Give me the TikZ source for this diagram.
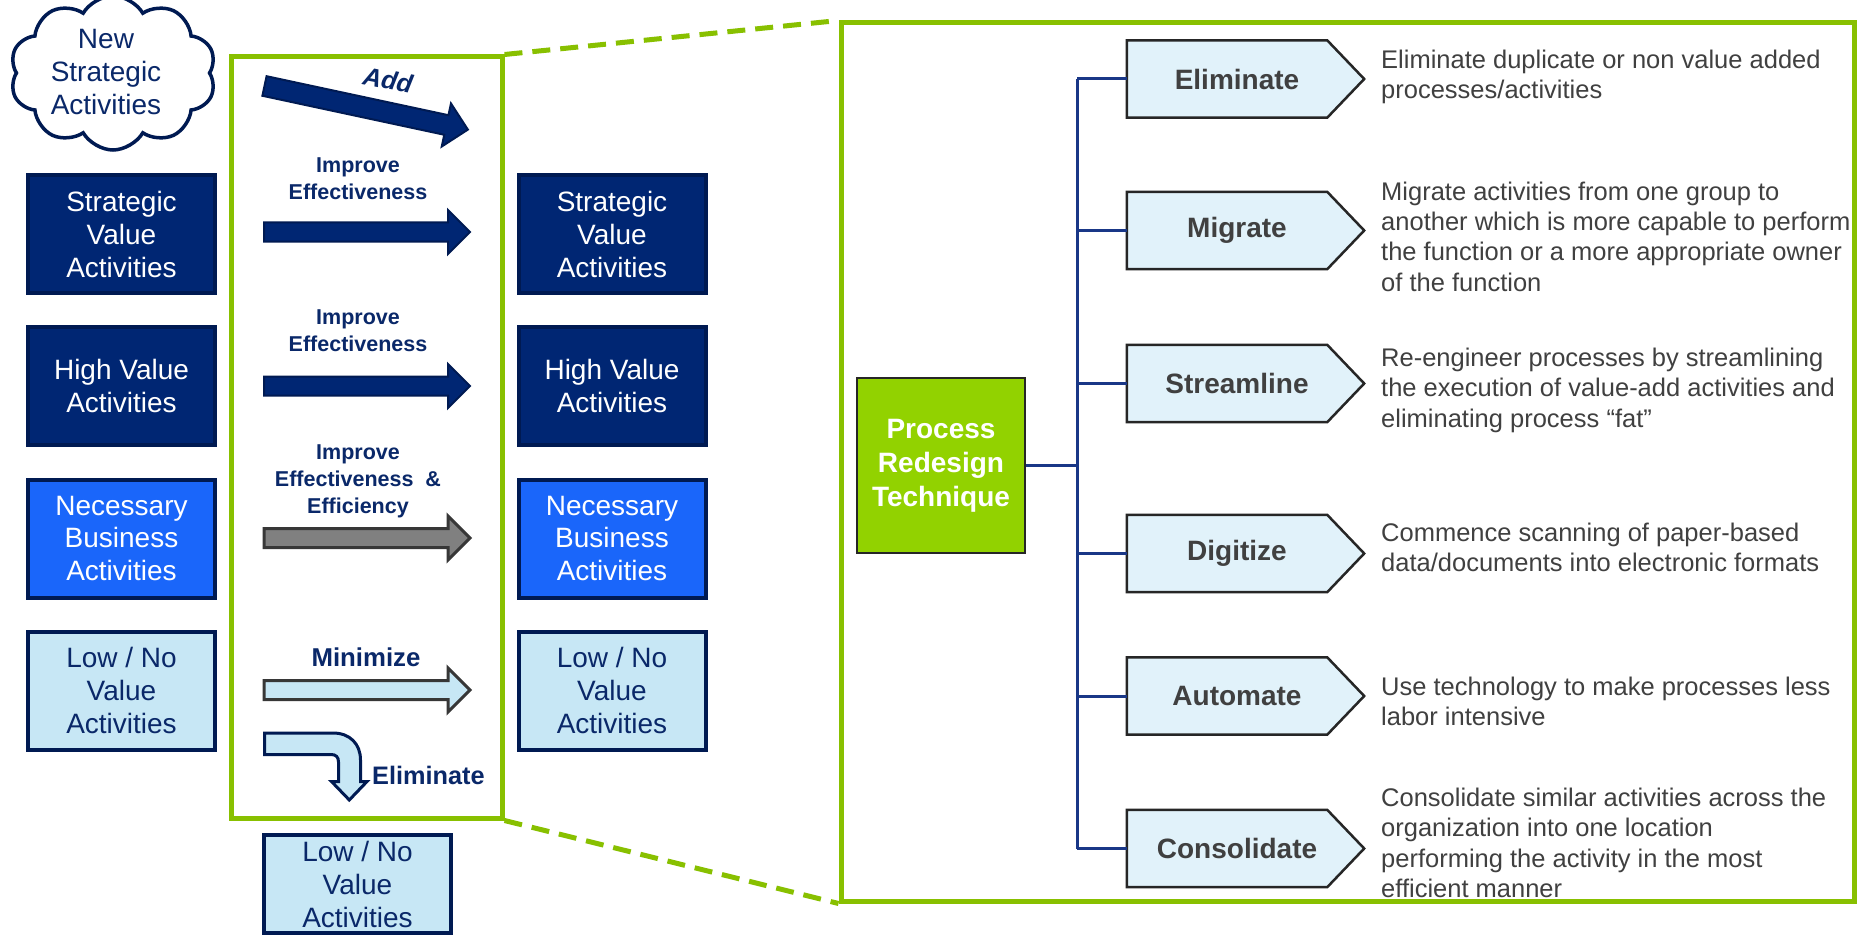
\documentclass[tikz,border=0pt]{standalone}
\usepackage{fontspec}
\setmainfont{Liberation Sans}
\usetikzlibrary{shapes.symbols,calc}
\pgfdeclarelayer{paper}
\pgfdeclarelayer{under}
\pgfsetlayers{paper,under,main}

\definecolor{navy}{RGB}{0,38,115}
\definecolor{navyD}{RGB}{0,26,82}
\definecolor{brightblue}{RGB}{26,102,250}
\definecolor{paleblue}{RGB}{199,231,245}
\definecolor{txtnavy}{RGB}{10,40,105}
\definecolor{lime}{RGB}{136,192,0}
\definecolor{limefill}{RGB}{146,210,0}
\definecolor{chevfill}{RGB}{225,242,250}
\definecolor{inkgray}{RGB}{64,64,64}
\definecolor{treeblue}{RGB}{25,55,135}
\definecolor{darkrim}{RGB}{55,55,55}

\begin{document}
\begin{tikzpicture}[x=1pt,y=-1pt,
  actbox/.style={rectangle, line width=4pt, draw=navyD, minimum width=187pt,
    minimum height=118pt, align=center, inner sep=0pt,
    font=\fontsize{28}{33}\selectfont},
  svbox/.style={actbox, fill=navy, text=white},
  nbbox/.style={actbox, fill=brightblue, text=white},
  lnbox/.style={actbox, fill=paleblue, text=txtnavy},
  frame/.style={draw=lime, line width=5pt, rectangle, inner sep=0pt},
  zoomline/.style={draw=lime, line width=5pt, dash pattern=on 18pt off 10pt},
  flowlbl/.style={text=txtnavy, align=center, inner sep=0pt,
    font=\bfseries\fontsize{21.5}{27}\selectfont},
  navyarrow/.style={fill=navy, draw=navyD, line width=2pt, line join=miter},
  grayarrow/.style={fill=gray, draw=darkrim, line width=3pt, line join=miter},
  palearrow/.style={fill=paleblue, draw=darkrim, line width=3pt, line join=miter},
  elimarrow/.style={fill=paleblue, draw=navyD, line width=3pt, line join=miter},
  chev/.style={rectangle, minimum width=220pt, minimum height=77pt, inner sep=0pt,
    text=inkgray, font=\bfseries\fontsize{28}{34}\selectfont},
  chevshape/.style={fill=chevfill, draw=black!85, line width=2.5pt, line join=miter},
  tree/.style={draw=treeblue, line width=3pt},
  desc/.style={anchor=north west, align=left, inner sep=0pt, text=inkgray,
    font=\fontsize{25.5}{30.3}\selectfont},
  blockarrow/.pic={\path[pic actions] (0,-9.5) -- (184,-9.5) -- (184,-22) -- (206,0)
    -- (184,22) -- (184,9.5) -- (0,9.5) -- cycle;},
  addarrow/.pic={\path[pic actions] (0,-10) -- (186,-10) -- (186,-22) -- (208,0)
    -- (186,22) -- (186,10) -- (0,10) -- cycle;}
]
\begin{pgfonlayer}{paper}
  \fill[white] (0,0) rectangle (1860,936);
\end{pgfonlayer}
\useasboundingbox (0,0) rectangle (1860,936);

% ---------- left panel: activity categories ----------
\node[cloud, cloud puffs=10, cloud puff arc=120, aspect=1.5, draw=navyD,
  line width=3.5pt, fill=white, minimum width=206pt, minimum height=154pt,
  inner sep=0pt] (cloud) at (113,73) {};
\node[text=txtnavy, align=center, inner sep=0pt,
  font=\fontsize{28}{33}\selectfont] (cloudtxt) at (106,72) {New\\Strategic\\Activities};

\node[svbox] (svL) at (121.5,234) {Strategic\\Value\\Activities};
\node[svbox] (hvL) at (121.5,386) {High Value\\Activities};
\node[nbbox] (nbL) at (121.5,538.5) {Necessary\\Business\\Activities};
\node[lnbox] (lnL) at (121.5,690.5) {Low / No\\Value\\Activities};

\node[svbox] (svR) at (612,234) {Strategic\\Value\\Activities};
\node[svbox] (hvR) at (612,386) {High Value\\Activities};
\node[nbbox] (nbR) at (612,538.5) {Necessary\\Business\\Activities};
\node[lnbox] (lnR) at (612,690.5) {Low / No\\Value\\Activities};

\node[lnbox, minimum height=98pt] (lnB) at (357.5,884) {Low / No\\Value\\Activities};

% ---------- transition frame and its arrows ----------
\node[frame, minimum width=271pt, minimum height=761pt] (src) at (366.5,437.5) {};

\pic[navyarrow, rotate=-12.1] at (264.5,86) {addarrow};
\node[flowlbl, font=\bfseries\itshape\fontsize{25.5}{30}\selectfont, rotate=-11] (lblAdd) at (388,80) {Add};

\node[flowlbl] (lblA) at (358,179) {Improve\\Effectiveness};
\pic[navyarrow] at (264,232) {blockarrow};

\node[flowlbl] (lblB) at (358,331) {Improve\\Effectiveness};
\pic[navyarrow] at (264,386) {blockarrow};

\node[flowlbl] (lblC) at (358,481) {Improve\\Effectiveness~~\&\\Efficiency};
\pic[grayarrow] at (264,538) {blockarrow};

\node[flowlbl, font=\bfseries\fontsize{25.8}{30}\selectfont] (lblD) at (366,657.5) {Minimize};
\pic[palearrow] at (264,690) {blockarrow};

\draw[elimarrow] (264.5,733) -- (333,733)
  .. controls (350,733) and (360.5,744) .. (360.5,760) -- (360.5,781.5)
  -- (367,781.5) -- (349.3,800) -- (331.5,781.5) -- (338.5,781.5) -- (338.5,762)
  .. controls (338.5,757) and (336,754.5) .. (331,754.5) -- (264.5,754.5) -- cycle;
\node[flowlbl, font=\bfseries\fontsize{25.3}{30}\selectfont, anchor=west] (lblE) at (372,775) {Eliminate};

% ---------- right panel: redesign techniques ----------
\node[frame, minimum width=1013pt, minimum height=878pt] (dst) at (1347.5,462) {};
\draw[zoomline] (src.north east) -- (dst.north west);
\draw[zoomline] (src.south east) -- (dst.south west);

\node[draw=black!85, line width=2.5pt, fill=limefill, minimum width=168pt,
  minimum height=175pt, text=white, align=center, inner sep=0pt,
  font=\bfseries\fontsize{28}{34}\selectfont] (proc) at (941,465.5) {Process\\Redesign\\Technique};

\node[chev] (c1) at (1237,79) {Eliminate};
\node[chev] (c2) at (1237,230.5) {Migrate};
\node[chev] (c3) at (1237,383.5) {Streamline};
\node[chev] (c4) at (1237,553.5) {Digitize};
\node[chev] (c5) at (1237,696) {Automate};
\node[chev] (c6) at (1237,848.5) {Consolidate};

\begin{pgfonlayer}{under}
  \foreach \nm in {c1,c2,c3,c4,c5,c6}
    \draw[chevshape] (\nm.north west) -- ($(\nm.north east)+(-20,0)$)
      -- ($(\nm.east)+(17,0)$) -- ($(\nm.south east)+(-20,0)$)
      -- (\nm.south west) -- cycle;
\end{pgfonlayer}

\coordinate (trunk) at (1077,0);
\draw[tree] (c1.west -| trunk) -- (c6.west -| trunk);
\draw[tree] (proc.east) -- (proc.east -| trunk);
\foreach \nm in {c1,c2,c3,c4,c5,c6}
  \draw[tree] (\nm.west -| trunk) -- (\nm.west);

\node[desc] (d1) at (1381,50) {Eliminate duplicate or non value added\\processes/activities};
\node[desc] (d2) at (1381,181.5) {Migrate activities from one group to\\another which is more capable to perform\\the function or a more appropriate owner\\of the function};
\node[desc] (d3) at (1381,348) {Re-engineer processes by streamlining\\the execution of value-add activities and\\eliminating process “fat”};
\node[desc] (d4) at (1381,523) {Commence scanning of paper-based\\data/documents into electronic formats};
\node[desc] (d5) at (1381,677) {Use technology to make processes less\\labor intensive};
\node[desc] (d6) at (1381,788) {Consolidate similar activities across the\\organization into one location\\performing the activity in the most\\efficient manner};
\end{tikzpicture}
\end{document}
